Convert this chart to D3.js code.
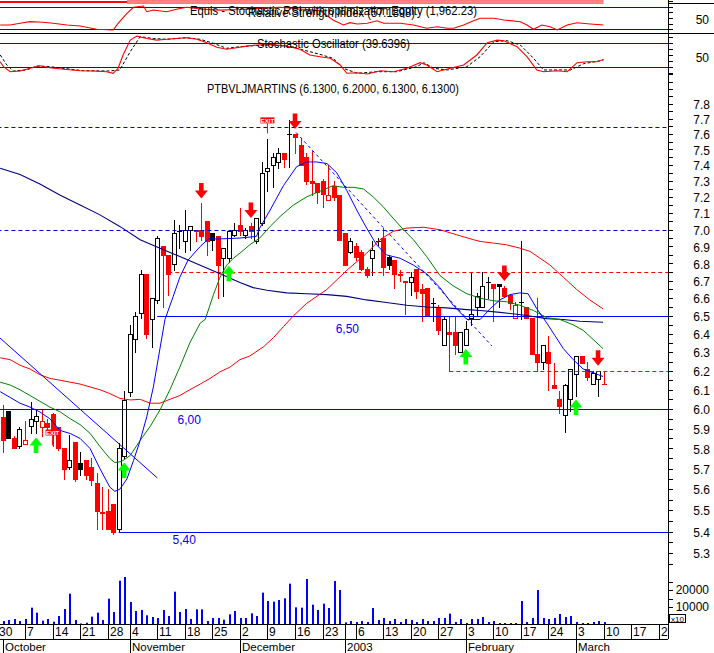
<!DOCTYPE html>
<html><head><meta charset="utf-8">
<script src="https://cdn.jsdelivr.net/npm/d3@7"></script>
<style>
body{margin:0;background:#fff}
svg{display:block}
text{font-family:"Liberation Sans",Arial,sans-serif}
</style>
</head><body>
<svg id="c" width="714" height="653"></svg>
<script>
// ---------------- DATA ----------------
const title = "PTBVLJMARTINS (6.1300, 6.2000, 6.1300, 6.1300)";
const rsiTitle = "Relative Strength Index (57.1898)";
const equityTitle = "Equis - Stochastic RSI with optimization Equity (1,962.23)";
const stochTitle = "Stochastic Oscillator (39.6396)";

const open  = [6.00,5.96,5.99,5.85,5.81,5.82,5.915,5.94,5.91,5.93,5.975,5.91,5.80,5.71,5.83,5.73,5.745,5.71,5.63,5.485,5.495,5.53,5.41,5.76,6.09,6.37,6.515,6.74,6.48,6.59,6.90,6.85,6.795,6.99,6.93,7.00,7.00,7.00,7.05,6.98,6.96,6.83,6.83,6.97,7.03,6.97,7.02,6.93,7.04,7.365,7.40,7.42,7.48,7.60,7.60,7.53,7.45,7.30,7.29,7.30,7.18,7.27,7.21,6.98,6.87,6.90,6.87,6.77,6.83,6.93,6.95,6.84,6.82,6.74,6.70,6.69,6.77,6.65,6.66,6.57,6.55,6.34,6.41,6.41,6.30,6.34,6.49,6.55,6.55,6.69,6.68,6.68,6.66,6.62,6.49,6.58,6.55,6.49,6.29,6.25,6.30,6.125,6.05,5.97,6.05,6.185,6.28,6.21,6.13,6.155,6.13];
const high  = [6.03,6.02,5.99,5.86,5.91,5.94,6.035,6.00,6.00,5.95,5.98,5.91,5.80,5.865,5.83,5.78,5.745,5.75,5.68,5.61,5.60,5.53,5.825,6.095,6.45,6.52,6.76,6.74,6.60,6.96,6.90,6.85,7.06,7.03,7.12,7.02,7.00,7.16,7.05,6.98,6.96,6.89,7.00,7.04,7.13,7.01,7.04,7.07,7.42,7.57,7.48,7.51,7.48,7.69,7.60,7.57,7.48,7.49,7.29,7.31,7.40,7.30,7.21,6.98,6.95,6.92,6.88,6.78,6.93,6.95,7.01,6.85,6.82,6.76,6.70,6.75,6.77,6.68,6.66,6.60,6.56,6.50,6.50,6.50,6.41,6.47,6.75,6.63,6.75,6.72,6.68,6.68,6.67,6.62,6.58,6.93,6.55,6.49,6.60,6.34,6.39,6.24,6.095,6.13,6.21,6.28,6.28,6.25,6.20,6.20,6.20];
const low   = [5.92,5.78,5.85,5.80,5.80,5.82,5.875,5.875,5.86,5.89,5.81,5.79,5.65,5.70,5.64,5.67,5.65,5.62,5.41,5.41,5.41,5.39,5.40,5.75,6.07,6.30,6.49,6.38,6.33,6.57,6.55,6.62,6.76,6.89,6.87,6.88,6.93,6.94,6.85,6.88,6.60,6.61,6.81,6.96,6.97,6.95,6.95,6.92,7.03,7.24,7.26,7.38,7.39,7.39,7.48,7.40,7.28,7.21,7.16,7.14,7.18,7.18,6.94,6.79,6.86,6.82,6.76,6.72,6.73,6.91,6.73,6.77,6.66,6.70,6.51,6.62,6.60,6.47,6.50,6.47,6.40,6.34,6.20,6.29,6.30,6.34,6.45,6.50,6.55,6.60,6.47,6.55,6.61,6.54,6.49,6.48,6.49,6.29,6.20,6.21,6.10,6.11,5.98,5.88,5.99,6.07,6.24,6.15,6.13,6.07,6.13];
const close = [5.97,5.84,5.85,5.80,5.90,5.84,5.947,5.964,5.94,5.91,5.87,5.80,5.70,5.745,5.65,5.70,5.67,5.645,5.495,5.49,5.41,5.40,5.80,6.045,6.40,6.50,6.74,6.40,6.60,6.95,6.85,6.74,6.98,6.99,7.00,7.02,6.99,6.96,6.93,6.94,6.79,6.89,6.99,7.00,6.99,7.00,6.99,7.07,7.35,7.38,7.45,7.48,7.44,7.60,7.58,7.40,7.30,7.29,7.23,7.22,7.21,7.20,6.94,6.79,6.93,6.84,6.77,6.73,6.88,6.93,6.78,6.79,6.74,6.73,6.69,6.72,6.64,6.63,6.50,6.57,6.42,6.48,6.40,6.34,6.41,6.43,6.51,6.61,6.67,6.69,6.66,6.67,6.61,6.57,6.56,6.58,6.49,6.29,6.25,6.34,6.24,6.11,6.015,6.125,6.21,6.28,6.24,6.17,6.19,6.20,6.13];
const volume = [1500,1760,2350,2940,1760,2940,9600,6670,1960,2940,1370,4700,8820,17840,2350,300,780,4310,6670,2350,14900,7060,25490,27650,12940,7650,8240,5100,4120,3530,8240,4700,19020,7060,8820,2940,8630,8630,1760,3530,3530,2550,5690,7650,3530,3530,6270,4700,18430,13530,13140,14120,15100,23730,9800,9610,26470,11370,8240,11960,9410,25290,20000,980,1760,1180,1760,1180,9410,2350,3530,1760,2940,1180,2940,2350,1180,2940,1760,1760,3530,3530,6080,1180,2940,590,2940,2940,4120,1180,1760,590,590,590,590,13530,1180,3530,20000,3530,2940,3530,5880,4120,4700,1180,590,590,1180,1760,1180];

// moving averages / indicator lines: [bar index, value]
const maShort = [[0.5,6.09],[2.3,6.06],[4.1,6.03],[5.9,6.01],[7.7,5.985],[9.5,5.95],[11.4,5.89],[13.2,5.875],[15,5.85],[16.8,5.80],[18.6,5.70],[20.4,5.61],[21.3,5.59],[22.2,5.60],[23.5,5.65],[24.7,5.74],[25.9,5.84],[27.1,5.96],[28.3,6.115],[30.4,6.48],[31.9,6.61],[33.1,6.72],[34.6,6.82],[36.8,6.90],[38.3,6.945],[40.4,6.945],[44,6.95],[47,6.96],[47.6,7.01],[49.5,7.12],[51.9,7.27],[54.3,7.39],[56.1,7.42],[57.9,7.42],[59.8,7.41],[61.6,7.35],[63.4,7.24],[65.2,7.12],[67,7.01],[68.8,6.91],[70.6,6.85],[73.1,6.83],[75.5,6.79],[77.9,6.74],[80.3,6.66],[82.7,6.56],[85.2,6.48],[87.6,6.48],[89.4,6.54],[91.2,6.59],[93,6.62],[94.8,6.63],[96.3,6.625],[97.9,6.54],[99.7,6.46],[101.2,6.39],[102.7,6.32],[104.5,6.26],[106.3,6.21],[108.1,6.19],[109.9,6.17]];
const maMid = [[0.5,6.14],[2.3,6.125],[4.1,6.10],[5.9,6.07],[7.7,6.04],[9.5,6.01],[11.4,5.985],[13.2,5.95],[15,5.92],[16.8,5.876],[18.6,5.81],[20.4,5.75],[21.3,5.73],[22.5,5.735],[24.1,5.765],[25.9,5.84],[27.7,5.91],[29.5,5.995],[31.3,6.10],[33.1,6.22],[34.9,6.35],[36.8,6.46],[37.7,6.48],[39.2,6.62],[40.4,6.72],[41.6,6.79],[42.8,6.83],[44,6.86],[45.8,6.91],[47.6,6.95],[49.5,7.02],[51.3,7.08],[53.7,7.15],[56.1,7.20],[58.5,7.235],[60.9,7.27],[62.8,7.26],[64.6,7.26],[66.4,7.25],[68.2,7.20],[70,7.14],[71.8,7.07],[73.7,7.00],[75.5,6.94],[77.9,6.84],[80.3,6.73],[82.7,6.67],[85.2,6.625],[87.6,6.60],[90,6.585],[92.4,6.58],[94.8,6.56],[97.3,6.53],[99.7,6.49],[102.1,6.48],[104.5,6.45],[106.3,6.42],[108.1,6.37],[109.9,6.32]];
const maLong = [[0.5,6.27],[2.3,6.26],[4.1,6.23],[5.9,6.21],[7.7,6.18],[9.5,6.16],[11.4,6.15],[13.2,6.14],[15,6.13],[16.8,6.115],[18.6,6.10],[20.4,6.08],[22.2,6.055],[24.1,6.047],[25.9,6.05],[27.7,6.03],[29.5,6.03],[31.3,6.05],[33.1,6.07],[34.9,6.10],[36.8,6.13],[38.6,6.16],[40.4,6.195],[42.2,6.22],[44,6.26],[45.8,6.28],[48.3,6.33],[50.1,6.38],[51.9,6.44],[53.7,6.50],[56.1,6.57],[59.8,6.65],[63.4,6.76],[67,6.86],[69.4,6.94],[71.8,6.99],[74.3,7.01],[77.3,7.015],[80.3,7.00],[83.3,6.97],[86.4,6.94],[87.6,6.93],[90,6.92],[92.4,6.91],[94.8,6.89],[96.7,6.87],[98.5,6.83],[100.3,6.79],[102.7,6.72],[105.1,6.65],[107.5,6.59],[109.9,6.54]];
const maVeryLong = [[0.5,7.38],[4.1,7.34],[7.7,7.28],[11.4,7.21],[15,7.15],[18.6,7.09],[22.2,7.02],[25.9,6.94],[29.5,6.89],[33.1,6.84],[36.8,6.79],[40.4,6.74],[44,6.69],[46.4,6.66],[48.9,6.645],[52.5,6.63],[56.1,6.625],[59.8,6.62],[63.4,6.61],[67,6.59],[70.6,6.575],[74.3,6.56],[77.9,6.55],[81.5,6.545],[85.2,6.535],[87.6,6.53],[91.2,6.52],[95.4,6.505],[99.7,6.485],[102.7,6.48],[105.7,6.47],[109.9,6.465]];
const trendDown = [[0,6.39],[29,5.655]];
const trendDashed = [[54.2,7.61],[89.75,6.334]];

const rsi = [[0.5,37.6],[2.3,37.6],[4.1,40.6],[5.9,43.5],[8.3,42.4],[10.1,40.6],[12.6,37.6],[15,35.8],[18,30],[21,28.8],[21.9,40.6],[23.5,58.3],[24.7,68.9],[26.5,71.2],[27.1,61.2],[28.3,64.2],[30.7,61.2],[32.5,65.4],[34.3,68.9],[36.8,66],[40.4,64],[44,65],[47.6,67],[51.3,69],[54.9,66],[58.5,63],[60.9,46.5],[62.8,37.6],[64,41.7],[65.3,39.4],[67.1,40.6],[68.9,45.2],[70.1,40.6],[73.1,40.6],[75.5,37.6],[77.9,31.8],[79.8,34.6],[81.6,31.8],[82.8,31.8],[84.6,37.6],[86.4,45.2],[87.6,49.5],[90.1,49.5],[91.9,46.5],[94.9,43.5],[96.1,37.6],[97.3,30],[98.8,37.6],[100.3,34.6],[101.6,28.8],[103.4,37.6],[105.2,41.7],[107.6,39.4],[110,37.6]];
const equityA = [[0,78.3],[23.5,78.3]];
const equityB = [[23.5,80.1],[110,80.1]];
const equityC = [[23.5,76.5],[110,76.5]];
const stochK = [[0.5,34],[1.1,21.5],[2.3,9],[4.1,10.8],[5.9,17.5],[7.7,24],[9.5,19],[12,15],[15,11.5],[17.4,10.8],[19.8,9],[21,5],[21.9,17.5],[22.8,50.8],[24.1,88],[25.3,98],[27.1,92],[28.9,88],[30.7,90],[34.3,94],[36.2,90],[38,81.5],[39.8,70],[41.6,65],[43.4,69],[45.2,73],[47.1,75.8],[49.5,77],[52.2,74],[54.9,65],[56.7,50.8],[58.5,46.5],[60.4,42.5],[62.2,25.8],[63.4,5],[65.3,6.5],[67.1,3.3],[69.5,11.5],[71.9,9],[74.3,17.5],[76.7,31.5],[77.9,25.8],[79.8,9],[82.2,17.5],[84.6,25.8],[87,50.8],[88.9,81.5],[90.7,88],[91.9,86.5],[94.3,71.5],[96.1,46.5],[97.9,13.3],[99.1,9],[101.6,11.5],[103.4,9],[105.2,31.5],[107,34],[108.8,34],[110,39.6]];
const stochD = [[0.5,50.8],[1.7,25.8],[2.9,10.8],[5.3,13.3],[7.1,23.3],[9.5,21.5],[15.6,11.5],[20.4,10.8],[22.2,13.3],[24.1,59],[25.9,96.5],[28.3,92],[30.7,90],[34.3,94],[36.8,90],[39.2,80],[41.6,67.5],[44,71.5],[46.4,74],[49.5,76],[53.1,72],[58.5,52.5],[60.9,42.5],[62.8,17.5],[65.3,5],[68.9,9],[72.5,9],[76.1,21.5],[77.4,31.5],[79.2,17.5],[81.6,13.3],[85.2,21.5],[87.6,46.5],[90.1,84],[92.5,86.5],[94.9,75.8],[97.3,42.5],[99.1,13.3],[101.6,13.3],[104,13.3],[106.4,29],[110,38]];

const buySignals  = [7, 23, 42, 85, 105];
const sellSignals = [37, 46, 54, 92, 109];
const exitSignals = [[10, 5.88], [49, 7.69]];

// horizontal study lines: price, first bar, style
const hLevels = [7.645, 7.00, 6.748, 6.201, 6.50, 6.00, 5.40];
const hStart  = [0, 0, 31, 82, 29, 0, 22];
const hKind   = ["blueDash","blueDash","redDash","redDash","blue","blue","blue"];
const hLabels = ["", "", "", "", "6,50", "6,00", "5,40"];
const hLabelBar = [0,0,0,0,63.5,34.8,33.9];

// time axis
const weekTickBars = [0,5,10,15,20,24,29,34,39,44,49,54,59,63,65,70,75,80,85,90,95,100,105,110,115,120];
const weekTickLabels = ["30","7","14","21","28","4","11","18","25","2","9","16","23","","6","13","20","27","3","10","17","24","3","10","17","24"];
const monthBars = [1,24,44,63,85,105];
const monthLabels = ["October","November","December","2003","February","March"];
const priceTickLabels = ["5.3","5.4","5.5","5.6","5.7","5.8","5.9","6.0","6.1","6.2","6.3","6.4","6.5","6.6","6.7","6.8","6.9","7.0","7.1","7.2","7.3","7.4","7.5","7.6","7.7","7.8"];
const volTickLabels = ["10000","20000"];

// ---------------- DRAW ----------------
const W = 714, H = 653, R = 668;
const svg = d3.select("#c");
svg.append("rect").attr("width",W).attr("height",H).attr("fill","#fff");

const x = d3.scaleLinear().domain([0,110]).range([-2.55, -2.55 + 5.51*110]);
const y = d3.scaleLog().domain([5.4,7.8]).range([409 + 1163*Math.log(6/5.4), 409 - 1163*Math.log(7.8/6)]);
const yR = d3.scaleLinear().domain([30,70]).range([29.3,6.7]);
const yS = d3.scaleLinear().domain([20,80]).range([67.3,43.3]);
const yV = d3.scaleLinear().domain([0,20000]).range([624,590]);

const defs = svg.append("defs");
function clip(id, x0, y0, w, h){ defs.append("clipPath").attr("id",id).append("rect").attr("x",x0).attr("y",y0).attr("width",w).attr("height",h); }
clip("cTop",0,0,R,33); clip("cSto",0,34,R,42); clip("cPr",0,76,R,500); clip("cVol",0,576,R,48);

const gTop = svg.append("g").attr("clip-path","url(#cTop)");
const gSto = svg.append("g").attr("clip-path","url(#cSto)");
const gPr  = svg.append("g").attr("clip-path","url(#cPr)");
const gVol = svg.append("g").attr("clip-path","url(#cVol)");

const px = i => Math.round(x(i));

// ---- top panel (RSI / equity)
[70,30].forEach(v => gTop.append("line").attr("x1",0).attr("x2",R).attr("y1",Math.round(yR(v))+0.5).attr("y2",Math.round(yR(v))+0.5).attr("stroke","#0000ff"));
const lineR = d3.line().x(d=>x(d[0])).y(d=>yR(d[1]));
gTop.append("path").attr("d",lineR(equityA)).attr("fill","none").attr("stroke","#ff0000").attr("stroke-width",2);
gTop.append("path").attr("d",lineR(equityB)).attr("fill","none").attr("stroke","#ff0000");
gTop.append("path").attr("d",lineR(equityC)).attr("fill","none").attr("stroke","#ff0000");
gTop.append("path").attr("d",lineR(rsi)).attr("fill","none").attr("stroke","#ff0000").attr("stroke-width",1.1);

// ---- stochastic panel
[80,20].forEach(v => gSto.append("line").attr("x1",0).attr("x2",R).attr("y1",Math.round(yS(v))+0.5).attr("y2",Math.round(yS(v))+0.5).attr("stroke","#0000ff"));
const lineS = d3.line().x(d=>x(d[0])).y(d=>yS(d[1]));
gSto.append("path").attr("d",lineS(stochD)).attr("fill","none").attr("stroke","#000").attr("stroke-dasharray","3,2");
gSto.append("path").attr("d",lineS(stochK)).attr("fill","none").attr("stroke","#ff0000").attr("stroke-width",1.1);

// ---- price panel: candles
const candles = gPr.append("g").attr("shape-rendering","crispEdges");
for (let i=0;i<open.length;i++){
  const o=open[i], c=close[i], h=high[i], l=low[i];
  const prev = i>0 ? close[i-1] : c;
  const col = c >= prev ? "#000" : "#ff0000";
  const cx = px(i);
  candles.append("line").attr("x1",cx+0.5).attr("x2",cx+0.5).attr("y1",Math.round(y(h))).attr("y2",Math.round(y(l))+1).attr("stroke",col);
  const yt = Math.round(y(Math.max(o,c))), yb = Math.round(y(Math.min(o,c)));
  if (Math.abs(c-o) < 0.004){
    candles.append("line").attr("x1",cx-2).attr("x2",cx+3).attr("y1",yt+0.5).attr("y2",yt+0.5).attr("stroke",col);
  } else if (c > o){
    candles.append("rect").attr("x",cx-1.5).attr("y",yt+0.5).attr("width",4).attr("height",Math.max(1,yb-yt)).attr("fill","#fff").attr("stroke",col);
  } else {
    candles.append("rect").attr("x",cx-2).attr("y",yt).attr("width",5).attr("height",Math.max(1,yb-yt+1)).attr("fill",col);
  }
}

// ---- horizontal study lines
hLevels.forEach((p,k)=>{
  const yy = Math.round(y(p))+0.5;
  const kind = hKind[k];
  const ln = gPr.append("line").attr("x1",x(hStart[k])).attr("x2",R).attr("y1",yy).attr("y2",yy)
    .attr("stroke", kind==="redDash" ? "#ff0000" : (kind==="blueDash" ? "#0000cc" : "#0000ff"));
  if (kind!=="blue") ln.attr("stroke-dasharray","4,3");
  if (hLabels[k]) {
    const off = {"6,50":11.8,"6,00":10,"5,40":7}[hLabels[k]];
    gPr.append("text").attr("x",x(hLabelBar[k])).attr("y",yy+off).attr("dy","0.35em").attr("text-anchor","middle")
      .attr("font-size",12).attr("fill","#0000ff").text(hLabels[k]);
  }
});

// ---- moving averages and trend lines
const lineP = d3.line().x(d=>x(d[0])).y(d=>y(d[1]));
gPr.append("path").attr("d",lineP(maVeryLong)).attr("fill","none").attr("stroke","#000080").attr("stroke-width",1.1);
gPr.append("path").attr("d",lineP(maLong)).attr("fill","none").attr("stroke","#ff0000");
gPr.append("path").attr("d",lineP(maMid)).attr("fill","none").attr("stroke","#008000");
gPr.append("path").attr("d",lineP(maShort)).attr("fill","none").attr("stroke","#0000ff");
gPr.append("path").attr("d",lineP(trendDown)).attr("fill","none").attr("stroke","#0000ff");
gPr.append("path").attr("d",lineP(trendDashed)).attr("fill","none").attr("stroke","#0000ff").attr("stroke-dasharray","3,3");

// ---- signals
buySignals.forEach(i=>{
  const cx = x(i), t = y(low[i]) + 4;
  gPr.append("path").attr("fill","#00ff00")
    .attr("d",`M${cx},${t} L${cx+6.5},${t+8} L${cx+2.3},${t+8} L${cx+2.3},${t+15.5} L${cx-2.3},${t+15.5} L${cx-2.3},${t+8} L${cx-6.5},${t+8} Z`);
});
sellSignals.forEach(i=>{
  const cx = x(i), b = y(high[i]) - 5;
  gPr.append("path").attr("fill","#ff0000")
    .attr("d",`M${cx},${b} L${cx+6.5},${b-8} L${cx+2.3},${b-8} L${cx+2.3},${b-15.5} L${cx-2.3},${b-15.5} L${cx-2.3},${b-8} L${cx-6.5},${b-8} Z`);
});
exitSignals.forEach(([i,p])=>{
  const cx = x(i), cy = y(p);
  gPr.append("line").attr("x1",cx).attr("x2",cx).attr("y1",cy+3).attr("y2",cy+13).attr("stroke","#ff0000");
  gPr.append("rect").attr("x",cx-7).attr("y",cy-3).attr("width",14).attr("height",6).attr("fill","#ff0000");
  gPr.append("text").attr("x",cx).attr("y",cy+2.2).attr("text-anchor","middle").attr("font-size",6).attr("font-weight","bold").attr("fill","#fff").text("EXIT");
});

// ---- volume
gVol.append("g").selectAll("rect").data(volume).join("rect")
  .attr("x",(d,i)=>px(i)).attr("width",2)
  .attr("y",d=>yV(d)).attr("height",d=>624-yV(d)).attr("fill","#0000ff");

// ---- right axis
const ax = svg.append("g").attr("shape-rendering","crispEdges");
ax.append("line").attr("x1",R+0.5).attr("x2",R+0.5).attr("y1",0).attr("y2",639).attr("stroke","#000");
ax.append("line").attr("x1",0).attr("x2",W).attr("y1",33.5).attr("y2",33.5).attr("stroke","#000");
ax.append("line").attr("x1",R).attr("x2",W).attr("y1",3.5).attr("y2",3.5).attr("stroke","#000");
function tick(yy,len){ ax.append("line").attr("x1",R).attr("x2",R+len).attr("y1",Math.round(yy)+0.5).attr("y2",Math.round(yy)+0.5).attr("stroke","#000"); }
d3.range(30,90,10).forEach(v=>tick(yR(v),5));
d3.range(5,100,15).forEach(v=>tick(yS(v),5));
for (let k=0;k<=55;k++){ const p = 5.25 + k*0.05; const yy=y(p); if (yy>74 && yy<572) tick(yy,5); }
d3.range(5000,30000,5000).forEach(v=>tick(yV(v),5));
const lab = (t,yy,anchorX)=> ax.append("text").attr("x",anchorX).attr("y",yy).attr("dy","0.35em").attr("text-anchor","end").attr("font-size",12).attr("fill","#000").text(t);
lab("50", yR(50)+2, 709);
lab("50", yS(50)+2, 709);
priceTickLabels.forEach(t=> lab(t, y(+t)+1, 710));
volTickLabels.forEach(t=> lab(t, yV(+t), 709));
ax.append("rect").attr("x",669.5).attr("y",614.5).attr("width",16).attr("height",8).attr("fill","#fff").attr("stroke","#000");
ax.append("text").attr("x",677.5).attr("y",621.5).attr("text-anchor","middle").attr("font-size",8).text("x10");

// ---- time axis
ax.append("line").attr("x1",0).attr("x2",R).attr("y1",624.5).attr("y2",624.5).attr("stroke","#000");
ax.append("line").attr("x1",0).attr("x2",R).attr("y1",639.5).attr("y2",639.5).attr("stroke","#000");
const gx = svg.append("g").attr("clip-path","url(#cAx)");
clip("cAx",0,620,R,40);
weekTickBars.forEach((b,k)=>{
  const xx = px(b)+0.5;
  gx.append("line").attr("x1",xx).attr("x2",xx).attr("y1",624).attr("y2",639).attr("stroke","#000").attr("shape-rendering","crispEdges");
  if (weekTickLabels[k]) gx.append("text").attr("x",xx+1.5).attr("y",632).attr("dy","0.35em").attr("font-size",12).text(weekTickLabels[k]);
});
monthBars.forEach((b,k)=>{
  const xx = px(b)+0.5;
  gx.append("line").attr("x1",xx).attr("x2",xx).attr("y1",639).attr("y2",653).attr("stroke","#000").attr("shape-rendering","crispEdges");
  gx.append("text").attr("x",xx+1.5).attr("y",646.5).attr("dy","0.35em").attr("font-size",11.5).text(monthLabels[k]);
});

// ---- titles
const tt = (t,x0,yb,len)=> svg.append("text").attr("x",x0).attr("y",yb).attr("font-size",12).attr("textLength",len).attr("lengthAdjust","spacingAndGlyphs").attr("fill","#000").text(t);
tt(equityTitle,190,15,287);
tt(rsiTitle,248,17,167);
tt(stochTitle,257,47.5,153);
tt(title,207,93,252);
</script>
</body></html>
